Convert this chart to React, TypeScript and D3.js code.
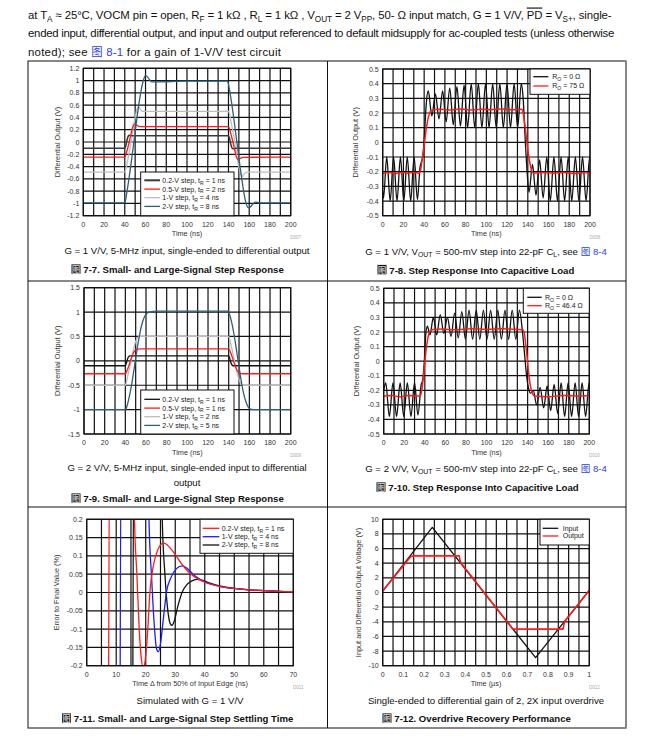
import * as d3 from 'd3'

type Pt = [number, number]

// ---- Figure 7-7 : small and large signal step, G = 1
const f77Step02: Pt[] = [[0,-0.1],[40,-0.1],[41,-0.06],[42,0.02],[43,0.08],[44,0.11],[45.5,0.105],[48,0.1],[140,0.1],[141,0.06],[142,-0.02],[143,-0.08],[144,-0.11],[145.5,-0.105],[148,-0.1],[200,-0.1]]
const f77Step05: Pt[] = [[0,-0.245],[40,-0.245],[42,-0.15],[44,-0.02],[46,0.13],[48,0.26],[49.5,0.295],[51,0.28],[53,0.26],[56,0.25],[140,0.25],[142,0.15],[144,0.02],[146,-0.13],[148,-0.26],[149.5,-0.285],[151,-0.27],[154,-0.25],[200,-0.245]]
const f77Step1: Pt[] = [[0,-0.49],[40,-0.49],[42,-0.36],[44,-0.2],[46,-0.01],[48,0.2],[50,0.4],[52,0.54],[53.5,0.57],[55,0.53],[57,0.5],[140,0.5],[142,0.37],[144,0.2],[146,0],[148,-0.21],[150,-0.41],[152,-0.53],[153.5,-0.56],[155,-0.52],[158,-0.49],[200,-0.49]]
const f77Step2: Pt[] = [[0,-0.99],[40,-0.99],[42,-0.82],[44,-0.6],[46,-0.36],[48,-0.1],[50,0.16],[52,0.42],[54,0.66],[56,0.86],[58,1.01],[60,1.08],[62,1.06],[64,1.01],[66,0.98],[70,0.98],[100,0.99],[139,0.99],[141,0.85],[143,0.64],[145,0.4],[147,0.14],[149,-0.12],[151,-0.38],[153,-0.62],[155,-0.84],[157,-1.0],[159,-1.07],[161,-1.06],[163,-1.02],[166,-0.98],[170,-0.99],[200,-0.99]]

// ---- Figure 7-8 : capacitive load, G = 1
const f78Ro0: Pt[] = [[0,-0.33],[0.8,-0.38],[3.9,-0.1],[7.2,-0.4],[10.5,-0.1],[13.8,-0.4],[17.1,-0.1],[20.4,-0.4],[23.7,-0.1],[27,-0.4],[30.3,-0.1],[33.5,-0.39],[36,-0.17],[37.5,-0.13],[39,-0.08],[40.5,0.08],[42,0.26],[44,0.35],[47.4,0.18],[50.9,0.33],[54.3,0.16],[57.8,0.35],[61.2,0.14],[64.7,0.37],[68.1,0.12],[71.6,0.38],[75,0.11],[78.5,0.39],[81.9,0.1],[85.4,0.4],[88.8,0.1],[92.3,0.4],[95.7,0.1],[99.2,0.4],[102.6,0.1],[106.1,0.4],[109.5,0.1],[113,0.4],[116.4,0.1],[119.9,0.4],[123.3,0.1],[126.8,0.4],[130.2,0.1],[133.7,0.4],[135.5,0.3],[137.5,0.02],[139.5,-0.22],[141.2,-0.34],[144.5,-0.15],[147.9,-0.36],[151.4,-0.12],[154.8,-0.38],[158.3,-0.1],[161.7,-0.4],[165.2,-0.1],[168.6,-0.4],[172.1,-0.1],[175.5,-0.4],[179,-0.1],[182.4,-0.4],[185.9,-0.1],[189.3,-0.4],[192.8,-0.1],[196.2,-0.4],[199.7,-0.1],[200,-0.11]]
const f78Ro75: Pt[] = [[0,-0.21],[6,-0.205],[12,-0.212],[18,-0.205],[24,-0.21],[30,-0.205],[35,-0.21],[36.5,-0.19],[38,-0.12],[40,-0.02],[42,0.09],[44,0.17],[46,0.21],[48,0.22],[55,0.225],[65,0.22],[75,0.228],[85,0.22],[95,0.225],[105,0.222],[115,0.228],[125,0.222],[134,0.225],[135.5,0.2],[137.5,0.1],[139.5,-0.02],[141.5,-0.12],[143.5,-0.19],[145.5,-0.21],[155,-0.205],[165,-0.21],[175,-0.205],[185,-0.212],[195,-0.205],[200,-0.21]]

// ---- Figure 7-9 : small and large signal step, G = 2
const f79Step02: Pt[] = [[0,-0.1],[40,-0.1],[41,-0.05],[42,0.03],[43,0.08],[44.5,0.1],[140,0.1],[141,0.05],[142,-0.03],[143,-0.08],[144.5,-0.1],[200,-0.1]]
const f79Step05: Pt[] = [[0,-0.265],[40,-0.265],[42,-0.18],[44,-0.06],[46,0.07],[48,0.17],[50,0.225],[52,0.24],[55,0.245],[140,0.245],[142,0.16],[144,0.04],[146,-0.09],[148,-0.19],[150,-0.245],[152,-0.26],[155,-0.265],[200,-0.265]]
const f79Step1: Pt[] = [[0,-0.5],[40,-0.5],[42,-0.34],[44,-0.15],[46,0.05],[48,0.24],[50,0.4],[52,0.48],[54,0.5],[140,0.5],[142,0.35],[144,0.16],[146,-0.04],[148,-0.23],[150,-0.39],[152,-0.47],[154,-0.5],[200,-0.5]]
const f79Step2: Pt[] = [[0,-1],[40,-1],[42,-0.9],[44,-0.72],[46,-0.5],[48,-0.23],[50,0.05],[52,0.32],[54,0.56],[56,0.75],[58,0.88],[60,0.96],[62,0.99],[65,1.01],[70,1.02],[139,1.02],[141,0.94],[143,0.78],[145,0.56],[147,0.3],[149,0.02],[151,-0.26],[153,-0.52],[155,-0.72],[157,-0.86],[159,-0.95],[161,-0.99],[164,-1.0],[200,-1.0]]

// ---- Figure 7-10 : capacitive load, G = 2
const f710Ro0: Pt[] = [[0,-0.2],[2,-0.15],[5.5,-0.38],[9,-0.15],[12.5,-0.38],[16,-0.15],[19.5,-0.38],[23,-0.15],[26.5,-0.38],[30,-0.15],[33.3,-0.37],[36.5,-0.16],[38,-0.13],[39.5,0.0],[41,0.19],[42.5,0.24],[45,0.18],[48.3,0.3],[51.6,0.18],[55,0.32],[58.5,0.19],[62,0.3],[65.5,0.17],[69,0.33],[72.5,0.16],[76,0.34],[79.5,0.15],[83,0.35],[86.5,0.15],[90,0.35],[93.5,0.15],[97,0.35],[100.5,0.15],[104,0.35],[107.5,0.15],[111,0.35],[114.5,0.15],[118,0.35],[121.5,0.15],[125,0.35],[128.5,0.15],[132,0.35],[135,0.2],[137,0.05],[139,-0.1],[141,-0.19],[143,-0.22],[145.5,-0.2],[148.8,-0.3],[152.2,-0.18],[155.6,-0.32],[159,-0.17],[162.4,-0.34],[165.8,-0.16],[169.2,-0.36],[172.6,-0.15],[176,-0.38],[179.4,-0.15],[182.8,-0.38],[186.2,-0.15],[189.6,-0.38],[193,-0.15],[196.4,-0.38],[199.8,-0.15],[200,-0.16]]
const f710Ro46: Pt[] = [[0,-0.24],[8,-0.235],[16,-0.245],[24,-0.235],[32,-0.24],[35.5,-0.24],[37,-0.2],[39,-0.08],[41,0.06],[43,0.16],[45,0.205],[47,0.215],[55,0.22],[70,0.215],[85,0.222],[100,0.218],[115,0.222],[130,0.218],[135.5,0.215],[137,0.18],[139,0.06],[141,-0.08],[143,-0.18],[145,-0.225],[147,-0.24],[160,-0.245],[175,-0.235],[190,-0.24],[200,-0.235]]

// ---- Figure 7-11 : settling error (%), values beyond +-0.2 are clipped
const f711Step02: Pt[] = [[7.3,-0.6],[7.9,0.6],[15.6,0.6],[16.2,0.2],[17,0.05],[17.8,-0.1],[18.5,-0.18],[19.2,-0.205],[19.9,-0.18],[20.7,-0.1],[21.4,0],[22.5,0.07],[24,0.115],[25,0.13],[26,0.135],[27,0.132],[28,0.124],[30,0.104],[32,0.08],[34,0.06],[36,0.046],[38,0.036],[40,0.028],[45,0.017],[50,0.011],[55,0.007],[60,0.005],[65,0.003],[70,0.002]]
const f711Step1: Pt[] = [[11.2,-0.6],[11.8,0.6],[20.5,0.6],[21.1,0.2],[22,0.04],[22.9,-0.09],[23.7,-0.155],[24.3,-0.162],[25,-0.14],[26,-0.07],[27,0],[28.5,0.04],[30.5,0.066],[32.3,0.073],[34,0.066],[36,0.05],[38,0.038],[40,0.029],[45,0.017],[50,0.011],[55,0.007],[60,0.005],[65,0.003],[70,0.002]]
const f711Step2: Pt[] = [[15.5,-0.6],[16.1,0.6],[25,0.6],[25.6,0.2],[26.5,0.05],[27.5,-0.05],[28.3,-0.085],[28.9,-0.09],[29.6,-0.08],[30.8,-0.04],[32.3,0],[34,0.022],[36,0.033],[37.5,0.036],[39,0.034],[41,0.028],[45,0.018],[50,0.011],[55,0.007],[60,0.005],[65,0.003],[70,0.002]]

// ---- Figure 7-12 : overdrive recovery
const f712Input: Pt[] = [[0,0.2],[0.24,8.9],[0.74,-8.9],[1,0.3]]
const f712Output: Pt[] = [[0,0.2],[0.135,4.9],[0.15,5.0],[0.37,5.0],[0.377,4.1],[0.63,-5.0],[0.873,-5.0],[0.88,-4.0],[1,0.3]]

// ---- tick labels
const timeTicks200 = [0, 20, 40, 60, 80, 100, 120, 140, 160, 180, 200]
const f77YTicks = [-1.2, -1, -0.8, -0.6, -0.4, -0.2, 0, 0.2, 0.4, 0.6, 0.8, 1, 1.2]
const capYTicks = [-0.5, -0.4, -0.3, -0.2, -0.1, 0, 0.1, 0.2, 0.3, 0.4, 0.5]
const f79YTicks = [-1.5, -1, -0.5, 0, 0.5, 1, 1.5]
const f711XTicks = [0, 10, 20, 30, 40, 50, 60, 70]
const f711YTicks = [-0.2, -0.15, -0.1, -0.05, 0, 0.05, 0.1, 0.15, 0.2]
const f712XTicks = [0, 0.1, 0.2, 0.3, 0.4, 0.5, 0.6, 0.7, 0.8, 0.9, 1]
const f712YTicks = [-10, -8, -6, -4, -2, 0, 2, 4, 6, 8, 10]

const FONT = '"Liberation Sans", Arial, Helvetica, "Noto Sans CJK SC", sans-serif'
const RED = '#ff1a1a'
const STEEL = '#2e6178'
const LGRAY = '#bcbcbc'

type Part = string | { t: string; sub?: boolean; over?: boolean; color?: string }

function Rich({ parts, size }: { parts: Part[]; size: number }) {
  const shift = size * 0.28
  let down = false
  return (
    <>
      {parts.map((p, i) => {
        if (typeof p === 'string' || !p.sub) {
          const dy = down ? -shift : 0
          down = false
          const t = typeof p === 'string' ? p : p.t
          const style = typeof p !== 'string' && p.over ? { textDecoration: 'overline' } : undefined
          const fill = typeof p !== 'string' && p.color ? p.color : undefined
          return <tspan key={i} dy={dy} style={style} fill={fill}>{t}</tspan>
        }
        const dy = down ? 0 : shift
        down = true
        return <tspan key={i} dy={dy} fontSize={size * 0.72}>{p.t}</tspan>
      })}
    </>
  )
}

interface Series { data: Pt[]; color: string; width?: number }
interface LegendCfg {
  x0: number; x1: number; y0: number; y1: number
  rows: number[]; lx0: number; lx1: number; tx: number
  items: { color: string; width?: number; label: Part[] }[]
}
interface PanelCfg {
  id: string
  box: { x0: number; x1: number; y0: number; y1: number }
  xDomain: [number, number]; yDomain: [number, number]
  xGridCount: number; yGridCount: number
  xTicks: number[]; yTicks: number[]
  xTitle: string; yTitle: string; yTitleX: number
  code: string
  linear?: boolean
  series: Series[]
  legend: LegendCfg
}

function Panel({ cfg }: { cfg: PanelCfg }) {
  const { box } = cfg
  const x = d3.scaleLinear().domain(cfg.xDomain).range([box.x0, box.x1])
  const y = d3.scaleLinear().domain(cfg.yDomain).range([box.y1, box.y0])
  const line = d3
    .line<Pt>()
    .x((d) => x(d[0]))
    .y((d) => y(d[1]))
    .curve(cfg.linear ? d3.curveLinear : d3.curveMonotoneX)
  const xGrid = d3.ticks(cfg.xDomain[0], cfg.xDomain[1], cfg.xGridCount)
  const yGrid = d3.ticks(cfg.yDomain[0], cfg.yDomain[1], cfg.yGridCount)
  const lg = cfg.legend
  const midY = (box.y0 + box.y1) / 2
  return (
    <g>
      <defs>
        <clipPath id={cfg.id}>
          <rect x={box.x0} y={box.y0} width={box.x1 - box.x0} height={box.y1 - box.y0} />
        </clipPath>
      </defs>
      {xGrid.map((v) => (
        <line key={'gx' + v} x1={x(v)} x2={x(v)} y1={box.y0} y2={box.y1} stroke="#111" strokeWidth={1.2} />
      ))}
      {yGrid.map((v) => (
        <line key={'gy' + v} x1={box.x0} x2={box.x1} y1={y(v)} y2={y(v)} stroke="#111" strokeWidth={1.2} />
      ))}
      <g clipPath={`url(#${cfg.id})`}>
        {cfg.series.map((s, i) => (
          <path key={i} d={line(s.data) ?? ''} fill="none" stroke={s.color} strokeWidth={s.width ?? 1.3} strokeLinejoin="round" />
        ))}
      </g>
      <rect x={box.x0} y={box.y0} width={box.x1 - box.x0} height={box.y1 - box.y0} fill="none" stroke="#111" strokeWidth={1.2} />
      <rect x={lg.x0} y={lg.y0} width={lg.x1 - lg.x0} height={lg.y1 - lg.y0} fill="#fff" stroke="#111" strokeWidth={1} />
      {lg.items.map((it, i) => (
        <g key={i}>
          <line x1={lg.lx0} x2={lg.lx1} y1={lg.rows[i]} y2={lg.rows[i]} stroke={it.color} strokeWidth={it.width ?? 1.3} />
          <text x={lg.tx} y={lg.rows[i] + 2.4} fontSize={7} fill="#222">
            <Rich parts={it.label} size={7} />
          </text>
        </g>
      ))}
      <g fontSize={7} fill="#333">
        {cfg.yTicks.map((v) => (
          <text key={'ty' + v} x={box.x0 - 4} y={y(v) + 2.5} textAnchor="end">{String(v)}</text>
        ))}
        {cfg.xTicks.map((v) => (
          <text key={'tx' + v} x={x(v)} y={box.y1 + 11} textAnchor="middle">{String(v)}</text>
        ))}
      </g>
      <text x={(box.x0 + box.x1) / 2} y={box.y1 + 20.5} fontSize={7.3} fill="#333" textAnchor="middle">{cfg.xTitle}</text>
      <text transform={`translate(${cfg.yTitleX + 2.5},${midY}) rotate(-90)`} fontSize={7.3} fill="#333" textAnchor="middle">{cfg.yTitle}</text>
      <text x={box.x1 + 5} y={box.y1 + 23} fontSize={4.5} fill="#aaa" textAnchor="middle">{cfg.code}</text>
    </g>
  )
}

const stepLegendY = (top: number) => [top + 8.5, top + 17.3, top + 25.9, top + 34.6]
const tR = (a: string, b: string): Part[] => [a + ', t', { t: 'R', sub: true }, ' = ' + b]
const ro = (v: string): Part[] => ['R', { t: 'O', sub: true }, ' = ' + v + ' \u03A9']

const panels: PanelCfg[] = [
  {
    id: 'c77',
    box: { x0: 83.3, x1: 290.7, y0: 68.3, y1: 215.7 },
    xDomain: [0, 200], yDomain: [-1.2, 1.2], xGridCount: 20, yGridCount: 12,
    xTicks: timeTicks200, yTicks: f77YTicks,
    xTitle: 'Time (ns)', yTitle: 'Differential Output (V)', yTitleX: 57, code: 'D007',
    series: [
      { data: f77Step1, color: LGRAY },
      { data: f77Step02, color: '#3a3a3a', width: 1.5 },
      { data: f77Step05, color: RED },
      { data: f77Step2, color: STEEL },
    ],
    legend: {
      x0: 140.7, x1: 234, y0: 172, y1: 215.7, rows: stepLegendY(171.8), lx0: 144.3, lx1: 160, tx: 162.3,
      items: [
        { color: '#3a3a3a', width: 2, label: tR('0.2-V step', '1 ns') },
        { color: RED, label: tR('0.5-V step', '2 ns') },
        { color: LGRAY, label: tR('1-V step', '4 ns') },
        { color: STEEL, label: tR('2-V step', '8 ns') },
      ],
    },
  },
  {
    id: 'c78',
    box: { x0: 382.7, x1: 590, y0: 69, y1: 215.7 },
    xDomain: [0, 200], yDomain: [-0.5, 0.5], xGridCount: 20, yGridCount: 10,
    xTicks: timeTicks200, yTicks: capYTicks,
    xTitle: 'Time (ns)', yTitle: 'Differential Output (V)', yTitleX: 355, code: 'D008',
    series: [
      { data: f78Ro0, color: '#111' },
      { data: f78Ro75, color: RED, width: 1.5 },
    ],
    legend: {
      x0: 530, x1: 590, y0: 69, y1: 94.3, rows: [76.7, 86], lx0: 533.3, lx1: 548.3, tx: 552.3,
      items: [
        { color: '#111', label: ro('0') },
        { color: RED, label: ro('75') },
      ],
    },
  },
  {
    id: 'c79',
    box: { x0: 84, x1: 290.7, y0: 287.7, y1: 434 },
    xDomain: [0, 200], yDomain: [-1.5, 1.5], xGridCount: 20, yGridCount: 6,
    xTicks: timeTicks200, yTicks: f79YTicks,
    xTitle: 'Time (ns)', yTitle: 'Differential Output (V)', yTitleX: 57, code: 'D009',
    series: [
      { data: f79Step1, color: LGRAY },
      { data: f79Step02, color: '#111' },
      { data: f79Step05, color: RED },
      { data: f79Step2, color: STEEL },
    ],
    legend: {
      x0: 140.7, x1: 234, y0: 390, y1: 434, rows: stepLegendY(390.8), lx0: 144.3, lx1: 160, tx: 162.3,
      items: [
        { color: '#111', label: tR('0.2-V step', '1 ns') },
        { color: RED, label: tR('0.5-V step', '1 ns') },
        { color: LGRAY, label: tR('1-V step', '2 ns') },
        { color: STEEL, label: tR('2-V step', '5 ns') },
      ],
    },
  },
  {
    id: 'c710',
    box: { x0: 383.7, x1: 589.3, y0: 288.3, y1: 434 },
    xDomain: [0, 200], yDomain: [-0.5, 0.5], xGridCount: 20, yGridCount: 10,
    xTicks: timeTicks200, yTicks: capYTicks,
    xTitle: 'Time (ns)', yTitle: 'Differential Output (V)', yTitleX: 356.5, code: 'D010',
    series: [
      { data: f710Ro0, color: '#111' },
      { data: f710Ro46, color: RED, width: 1.5 },
    ],
    legend: {
      x0: 523.3, x1: 589.3, y0: 288.3, y1: 313.3, rows: [297.3, 305.7], lx0: 527.3, lx1: 541.7, tx: 545,
      items: [
        { color: '#111', label: ro('0') },
        { color: RED, label: ro('46.4') },
      ],
    },
  },
  {
    id: 'c711',
    box: { x0: 86.7, x1: 293.3, y0: 519.3, y1: 665.7 },
    xDomain: [0, 70], yDomain: [-0.2, 0.2], xGridCount: 14, yGridCount: 8,
    xTicks: f711XTicks, yTicks: f711YTicks,
    xTitle: 'Time \u0394 from 50% of Input Edge (ns)', yTitle: 'Error to Final Value (%)', yTitleX: 56, code: 'D011',
    series: [
      { data: f711Step2, color: '#111' },
      { data: f711Step1, color: '#1a1aff' },
      { data: f711Step02, color: RED },
    ],
    legend: {
      x0: 200, x1: 293.3, y0: 519.3, y1: 553.3, rows: [528.3, 536.7, 545], lx0: 202.7, lx1: 219.3, tx: 221.7,
      items: [
        { color: RED, label: tR('0.2-V step', '1 ns') },
        { color: '#1a1aff', label: tR('1-V step', '4 ns') },
        { color: '#111', label: tR('2-V step', '8 ns') },
      ],
    },
  },
  {
    id: 'c712',
    box: { x0: 382.7, x1: 589.3, y0: 519.3, y1: 665.7 },
    xDomain: [0, 1], yDomain: [-10, 10], xGridCount: 20, yGridCount: 10,
    xTicks: f712XTicks, yTicks: f712YTicks, linear: true,
    xTitle: 'Time (\u00B5s)', yTitle: 'Input and Differential Output Voltage (V)', yTitleX: 358, code: 'D012',
    series: [
      { data: f712Input, color: '#111' },
      { data: f712Output, color: RED, width: 1.6 },
    ],
    legend: {
      x0: 540, x1: 589.3, y0: 519.3, y1: 545, rows: [528.3, 536], lx0: 542.7, lx1: 558.3, tx: 562.7,
      items: [
        { color: '#111', label: ['Input'] },
        { color: RED, label: ['Output'] },
      ],
    },
  },
]

const BLUE = '#2f3fd8'
const CAP = 9.6

interface Caption { cx: number; lines: { y: number; parts: Part[] }[]; tx: number; ty: number; title: string }
const vout: Part[] = ['V', { t: 'OUT', sub: true }, ' = 500-mV step into 22-pF C', { t: 'L', sub: true }, ', see ', { t: '\u56FE 8-4', color: BLUE }]
// tx = left edge of the black figure marker
const captions: Caption[] = [
  { cx: 187, lines: [{ y: 253.5, parts: ['G = 1 V/V, 5-MHz input, single-ended to differential output'] }], tx: 71.5, ty: 273, title: '7-7. Small- and Large-Signal Step Response' },
  { cx: 486, lines: [{ y: 254.5, parts: ['G = 1 V/V, ', ...vout] }], tx: 377.5, ty: 273.5, title: '7-8. Step Response Into Capacitive Load' },
  { cx: 187, lines: [{ y: 471, parts: ['G = 2 V/V, 5-MHz input, single-ended input to differential'] }, { y: 486, parts: ['output'] }], tx: 71.5, ty: 502, title: '7-9. Small- and Large-Signal Step Response' },
  { cx: 486, lines: [{ y: 471.5, parts: ['G = 2 V/V, ', ...vout] }], tx: 376.5, ty: 491, title: '7-10. Step Response Into Capacitive Load' },
  { cx: 190, lines: [{ y: 703.5, parts: ['Simulated with G = 1 V/V'] }], tx: 62, ty: 722, title: '7-11. Small- and Large-Signal Step Settling Time' },
  { cx: 486, lines: [{ y: 703.5, parts: ['Single-ended to differential gain of 2, 2X input overdrive'] }], tx: 382.5, ty: 722, title: '7-12. Overdrive Recovery Performance' },
]

const HDR = 11.4
const headerLines: Part[][] = [
  ['at T', { t: 'A', sub: true }, ' \u2248 25\u00B0C, VOCM pin = open, R', { t: 'F', sub: true }, ' = 1 k\u03A9 , R', { t: 'L', sub: true }, ' = 1 k\u03A9 , V', { t: 'OUT', sub: true }, ' = 2 V', { t: 'PP', sub: true }, ', 50- \u03A9 input match, G = 1 V/V, ', { t: 'PD', over: true }, ' = V', { t: 'S+', sub: true }, ', single-'],
  ['ended input, differential output, and input and output referenced to default midsupply for ac-coupled tests (unless otherwise'],
  ['noted); see ', { t: '\u56FE 8-1', color: BLUE }, ' for a gain of 1-V/V test circuit'],
]
const headerSpacing = [-0.1, -0.27, 0.25]

export default function App() {
  return (
    <svg width={661} height={738} style={{ position: 'absolute', left: 0, top: 0, background: '#fff' }} fontFamily={FONT}>
      <rect width={661} height={738} fill="#fff" />
      {headerLines.map((p, i) => (
        <text key={i} x={28} y={18.5 + i * 18.5} fontSize={HDR} fill="#111" letterSpacing={headerSpacing[i]}>
          <Rich parts={p} size={HDR} />
        </text>
      ))}
      <rect x={28} y={61} width={598} height={667} fill="none" stroke="#111" strokeWidth={1} />
      <line x1={626} x2={626} y1={61} y2={728} stroke="#888" strokeWidth={1.6} />
      <line x1={327.5} x2={327.5} y1={61} y2={728} stroke="#111" strokeWidth={1} />
      <line x1={28} x2={626} y1={281} y2={281} stroke="#111" strokeWidth={1} />
      <line x1={28} x2={626} y1={507} y2={507} stroke="#111" strokeWidth={1} />
      {panels.map((p) => (
        <Panel key={p.id} cfg={p} />
      ))}
      {captions.map((c, i) => (
        <g key={i}>
          {c.lines.map((l, j) => (
            <text key={j} x={c.cx} y={l.y} fontSize={CAP} fill="#111" textAnchor="middle">
              <Rich parts={l.parts} size={CAP} />
            </text>
          ))}
          <rect x={c.tx} y={c.ty - 8.6} width={9} height={9.4} fill="#111" />
          <text x={c.tx + 0.3} y={c.ty} fontSize={8.6} fontWeight="bold" fill="#bbb" fontFamily='"Noto Sans CJK SC", sans-serif'>
            {'\u56FE'}
          </text>
          <text x={c.tx + 11.8} y={c.ty} fontSize={CAP} fontWeight="bold" fill="#111">
            {c.title}
          </text>
        </g>
      ))}
    </svg>
  )
}
